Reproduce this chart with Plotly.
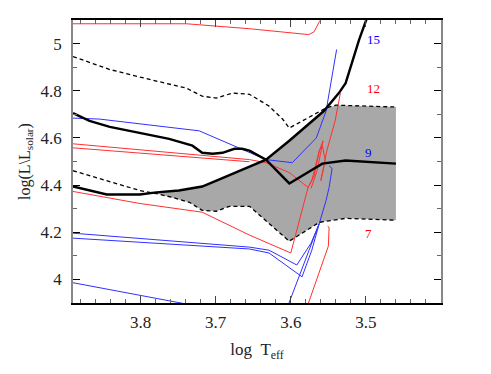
import plotly.graph_objects as go

# ── axes ──
X_RANGE = [3.89, 3.40]
Y_RANGE = [3.90, 5.10]
x_ticks = [3.8, 3.7, 3.6, 3.5]
y_ticks = [4, 4.2, 4.4, 4.6, 4.8, 5]
y_tick_text = ["4", "4.2", "4.4", "4.6", "4.8", "5"]

# ── shaded strip (lower dashed edge and upper edge) ──
strip_top_x = [3.779, 3.749, 3.718, 3.699, 3.669, 3.633, 3.602, 3.572, 3.554, 3.540, 3.509, 3.460]
strip_top_y = [4.369, 4.377, 4.394, 4.419, 4.461, 4.508, 4.588, 4.672, 4.722, 4.739, 4.735, 4.731]
strip_bot_x = [3.779, 3.758, 3.735, 3.718, 3.699, 3.682, 3.655, 3.602, 3.562, 3.527, 3.460]
strip_bot_y = [4.364, 4.348, 4.327, 4.293, 4.289, 4.310, 4.310, 4.162, 4.242, 4.259, 4.251]

# ── dashed boundaries ──
upper_dash_x = [3.890, 3.841, 3.788, 3.739, 3.718, 3.699, 3.678, 3.655, 3.629, 3.611,
                3.602, 3.585, 3.553, 3.540, 3.509, 3.460]
upper_dash_y = [4.945, 4.890, 4.848, 4.811, 4.777, 4.769, 4.790, 4.785, 4.735, 4.680,
                4.642, 4.672, 4.727, 4.739, 4.735, 4.731]
lower_dash_x = [3.890, 3.801, 3.779, 3.758, 3.735, 3.718, 3.699, 3.682, 3.655, 3.602,
                3.562, 3.527, 3.460]
lower_dash_y = [4.461, 4.377, 4.364, 4.348, 4.327, 4.293, 4.289, 4.310, 4.310, 4.162,
                4.242, 4.259, 4.251]

# ── thick black curves ──
thick_a_x = [3.890, 3.868, 3.845, 3.801, 3.779, 3.749, 3.718, 3.699, 3.669, 3.633,
             3.602, 3.572, 3.556, 3.536, 3.527, 3.509, 3.499]
thick_a_y = [4.394, 4.377, 4.360, 4.360, 4.369, 4.377, 4.394, 4.419, 4.461, 4.508,
             4.588, 4.672, 4.714, 4.790, 4.832, 5.017, 5.105]
thick_b_x = [3.890, 3.868, 3.841, 3.801, 3.762, 3.731, 3.718, 3.704, 3.691, 3.675,
             3.665, 3.655, 3.633, 3.602, 3.558, 3.527, 3.460]
thick_b_y = [4.705, 4.672, 4.647, 4.621, 4.596, 4.567, 4.537, 4.533, 4.537, 4.554,
             4.554, 4.546, 4.508, 4.407, 4.491, 4.504, 4.491]

# ── red tracks ──
red_top_x = [3.890, 3.739, 3.655, 3.576, 3.569, 3.562, 3.558]
red_top_y = [5.084, 5.084, 5.063, 5.038, 5.050, 5.093, 5.110]
red_12_x = [3.890, 3.655, 3.633, 3.602, 3.577, 3.569, 3.562, 3.558, 3.554, 3.560, 3.552, 3.541, 3.534]
red_12_y = [4.575, 4.508, 4.495, 4.453, 4.390, 4.440, 4.546, 4.567, 4.504, 4.419, 4.546, 4.672, 4.790]
red_12b_x = [3.890, 3.655]
red_12b_y = [4.558, 4.499]
red_7_x = [3.890, 3.801, 3.718, 3.655, 3.600, 3.582, 3.577, 3.572, 3.562, 3.557, 3.565, 3.573]
red_7_y = [4.373, 4.322, 4.285, 4.188, 4.112, 4.335, 4.390, 4.419, 4.546, 4.588, 4.461, 4.386]
red_low_x = [3.577, 3.560, 3.550, 3.549, 3.551]
red_low_y = [3.895, 4.053, 4.141, 4.221, 4.225]

# ── blue tracks ──
blue_15_x = [3.890, 3.855, 3.722, 3.655, 3.633, 3.598, 3.566, 3.553, 3.539]
blue_15_y = [4.684, 4.680, 4.630, 4.537, 4.508, 4.495, 4.600, 4.714, 4.975]
blue_a_x = [3.890, 3.655, 3.629, 3.592, 3.573, 3.562, 3.553, 3.549, 3.545, 3.549]
blue_a_y = [4.196, 4.137, 4.124, 4.061, 4.154, 4.238, 4.335, 4.390, 4.470, 4.482]
blue_b_x = [3.890, 3.655, 3.629, 3.585, 3.572, 3.562]
blue_b_y = [4.175, 4.129, 4.112, 4.011, 4.124, 4.238]
blue_c_x = [3.603, 3.582, 3.562]
blue_c_y = [3.895, 4.074, 4.238]
blue_low_x = [3.890, 3.738]
blue_low_y = [3.986, 3.895]

# ── mass labels ──
label_text = ["15", "12", "9", "7"]
label_x = [3.490, 3.490, 3.496, 3.497]
label_y = [5.017, 4.811, 4.537, 4.196]
label_color = ["blue", "red", "blue", "red"]

FONT = "Liberation Serif, Times New Roman, serif"

fig = go.Figure()

# gray strip
fig.add_trace(go.Scatter(
    x=strip_top_x + strip_bot_x[::-1], y=strip_top_y + strip_bot_y[::-1],
    fill="toself", fillcolor="#a8a8a8", line=dict(width=0), mode="lines",
    hoverinfo="skip",
))


def add_line(xs, ys, color, width=1, dash=None):
    fig.add_trace(go.Scatter(x=xs, y=ys, mode="lines",
                             line=dict(color=color, width=width, dash=dash)))


for xs, ys in [(red_top_x, red_top_y), (red_12_x, red_12_y), (red_12b_x, red_12b_y),
               (red_7_x, red_7_y), (red_low_x, red_low_y)]:
    add_line(xs, ys, "#ff3030")
for xs, ys in [(blue_15_x, blue_15_y), (blue_a_x, blue_a_y), (blue_b_x, blue_b_y),
               (blue_c_x, blue_c_y), (blue_low_x, blue_low_y)]:
    add_line(xs, ys, "#3030ff")

add_line(upper_dash_x, upper_dash_y, "black", 1.3, "4px,3px")
add_line(lower_dash_x, lower_dash_y, "black", 1.3, "4px,3px")
add_line(thick_a_x, thick_a_y, "black", 2.4)
add_line(thick_b_x, thick_b_y, "black", 2.4)

for t, x, y, c in zip(label_text, label_x, label_y, label_color):
    fig.add_annotation(x=x, y=y, text=t, showarrow=False,
                       font=dict(family=FONT, size=13, color=c))

# page body has an 8px margin, so the figure is a bit smaller than the window
fig.update_layout(
    width=483, height=366,
    margin=dict(l=65, r=50, t=10, b=71),
    paper_bgcolor="white", plot_bgcolor="white",
    showlegend=False,
    font=dict(family=FONT, size=17, color="#222"),
)
fig.update_xaxes(
    range=X_RANGE, showgrid=False, zeroline=False,
    showline=True, linecolor="black", linewidth=1.5, mirror="ticks",
    ticks="inside", ticklen=7, tickcolor="#444",
    tickvals=x_ticks, tickformat=".1f",
    minor=dict(ticks="inside", ticklen=4, dtick=0.02, tickcolor="#666"),
    ticklabelstandoff=3,
    title=dict(text="log&nbsp;&nbsp;T<sub>eff</sub>", standoff=12, font=dict(size=17)),
)
fig.update_yaxes(
    range=Y_RANGE, showgrid=False, zeroline=False,
    showline=True, linecolor="#888", linewidth=1.5, mirror="ticks",
    ticks="inside", ticklen=7, tickcolor="black",
    tickvals=y_ticks, ticktext=y_tick_text,
    minor=dict(ticks="inside", ticklen=4, dtick=0.1, tickcolor="#666"),
    ticklabelstandoff=6,
    title=dict(text="log(L\\L<sub>solar</sub>)", standoff=6, font=dict(size=16)),
)

fig.write_html("out.html")
